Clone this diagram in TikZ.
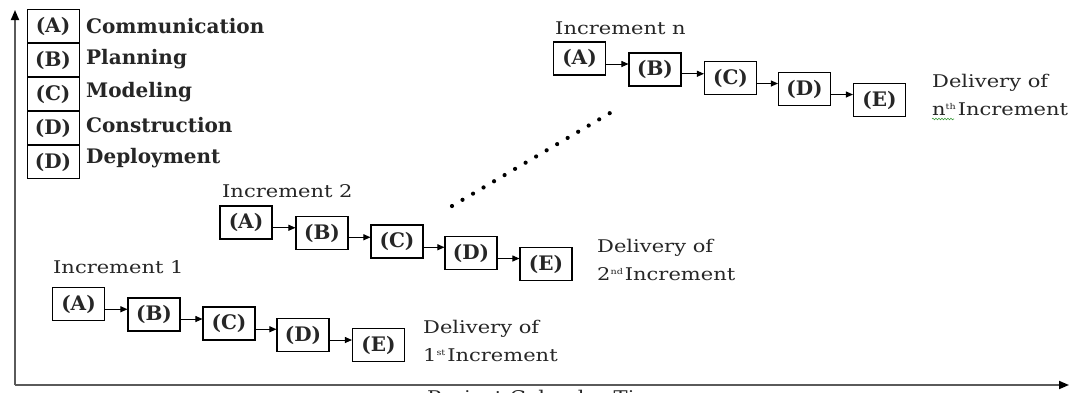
\documentclass[tikz,border=0pt]{standalone}
\usepackage{fontspec}
\setmainfont{DejaVu Serif}
\newfontfamily\wideserif[FakeStretch=1.2]{DejaVu Serif}
\usetikzlibrary{arrows.meta,calc,decorations.pathmorphing}
\definecolor{ink}{HTML}{262626}
\definecolor{axisgray}{HTML}{5A5A5A}
\definecolor{spell}{HTML}{3C9A3C}
\newcommand\tinysup[1]{\raisebox{6pt}{\fontsize{8}{8}\selectfont #1}\hspace{2pt}}
\begin{document}
\begin{tikzpicture}[x=1pt,y=-1pt,
  txt/.style={inner sep=0pt,text=ink,font=\wideserif\fontsize{17.5}{20}\selectfont},
  bl/.style={inner sep=0pt,text=ink,font=\fontsize{20}{22}\selectfont\bfseries},
  stagebox/.style={draw=black,line width=1.1pt,minimum width=52pt,minimum height=33pt,inner sep=0pt,text=ink,font=\fontsize{20}{22}\selectfont\bfseries},
  legbox/.style={draw=black,line width=1pt,minimum width=52pt,minimum height=33pt,inner sep=0pt,text=ink,font=\fontsize{20}{22}\selectfont\bfseries},
  arr/.style={draw=black,line width=0.9pt,-{Triangle[length=7pt,width=6pt]}},
  axis/.style={draw=axisgray,line width=1.8pt,-{Triangle[length=10pt,width=8pt,color=black]}}]
\useasboundingbox (0,0) rectangle (1076,392);

% axes
\coordinate (origin) at (15,385);
\coordinate (ytop) at (15,10);
\coordinate (xend) at (1069,385);
\draw[axis] (origin) -- (ytop);
\draw[axis] (origin) -- (xend);
\node[txt,anchor=north west] (xlab) at (427,389.5) {Project Calendar Time};

% legend
\node[legbox] (la) at (53,26) {(A)};
\node[legbox,anchor=north] (lb) at (la.south) {(B)};
\node[legbox,anchor=north] (lc) at (lb.south) {(C)};
\node[legbox,anchor=north] (ld) at (lc.south) {(D)};
\node[legbox,anchor=north] (le) at (ld.south) {(D)};
\node[bl,anchor=west] (ta) at (86,26) {Communication};
\node[bl,anchor=west] (tb) at (86,59) {Planning};
\node[bl,anchor=west] (tc) at (86,92) {Modeling};
\node[bl,anchor=west] (td) at (86,125) {Construction};
\node[bl,anchor=west] (te) at (86,158) {Deployment};

\newcommand\conn[2]{%
  \coordinate (m#1#2) at ($(#1.center)!.5!(#2.center)$);
  \draw[arr] (#1.east |- m#1#2) -- (#2.west |- m#1#2);}

% increment 1
\node[txt,anchor=base west] (inc1) at (53,273) {Increment 1};
\node[stagebox] (a1) at (78.5,304) {(A)};
\node[stagebox] (b1) at (154,314.5) {(B)};
\node[stagebox] (c1) at (229,323.5) {(C)};
\node[stagebox] (d1) at (303,335) {(D)};
\node[stagebox] (e1) at (378.5,345) {(E)};
\conn{a1}{b1}\conn{b1}{c1}\conn{c1}{d1}\conn{d1}{e1}
\node[txt,anchor=base west] (dv1) at (423,333) {Delivery of};
\node[txt,anchor=base west] (dw1) at (423,361) {1\tinysup{st}Increment};

% increment 2
\node[txt,anchor=base west] (inc2) at (222,197) {Increment 2};
\node[stagebox] (a2) at (246,222.5) {(A)};
\node[stagebox] (b2) at (322,233) {(B)};
\node[stagebox] (c2) at (397,241.5) {(C)};
\node[stagebox] (d2) at (471,253) {(D)};
\node[stagebox] (e2) at (546,264) {(E)};
\conn{a2}{b2}\conn{b2}{c2}\conn{c2}{d2}\conn{d2}{e2}
\node[txt,anchor=base west] (dv2) at (597,252) {Delivery of};
\node[txt,anchor=base west] (dw2) at (597,280) {2\tinysup{nd}Increment};

% increment n
\node[txt,anchor=base west] (incn) at (555,34) {Increment n};
\node[stagebox] (an) at (579.5,58.5) {(A)};
\node[stagebox] (bn) at (655,69.5) {(B)};
\node[stagebox] (cn) at (730.5,78) {(C)};
\node[stagebox] (dn) at (804.5,89) {(D)};
\node[stagebox] (en) at (879.5,100) {(E)};
\conn{an}{bn}\conn{bn}{cn}\conn{cn}{dn}\conn{dn}{en}
\node[txt,anchor=base west] (dvn) at (932,87) {Delivery of};
\node[txt,anchor=base west] (dwn) at (932,115) {n\tinysup{th}Increment};
\draw[spell,line width=0.6pt,decorate,decoration={snake,amplitude=0.8pt,segment length=3pt}]
  ($(dwn.base west)+(0,4)$) -- ($(dwn.base west)+(22,4)$);

% dotted continuation
\coordinate (dots1) at (452,206);
\coordinate (dots2) at (610,113);
\draw[black,line width=4.2pt,line cap=round,dash pattern=on 0pt off 12.2pt] (dots1) -- (dots2);
\end{tikzpicture}
\end{document}
